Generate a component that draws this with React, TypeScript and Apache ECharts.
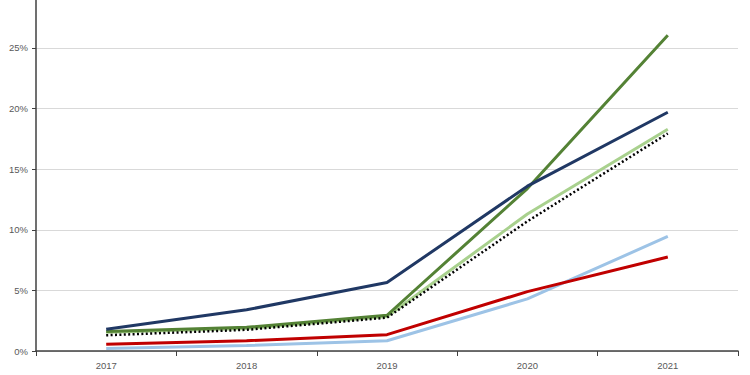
import React, { useEffect, useRef } from "react";
import * as echarts from "echarts";

const years = ["2017", "2018", "2019", "2020", "2021"];
const navy = [1.8, 3.4, 5.65, 13.6, 19.7];
const darkGreen = [1.6, 1.95, 2.95, 13.4, 26.05];
const lightGreen = [1.55, 1.85, 2.85, 11.3, 18.3];
const dotted = [1.3, 1.75, 2.75, 10.7, 17.95];
const red = [0.55, 0.85, 1.35, 4.9, 7.75];
const lightBlue = [0.2, 0.45, 0.85, 4.3, 9.45];

export default function App() {
  const ref = useRef<HTMLDivElement>(null);
  useEffect(() => {
    if (!ref.current) return;
    const chart = echarts.init(ref.current, null, { renderer: "svg" });
    const line = (name: string, data: number[], color: string, width = 3, type: any = "solid") => ({
      name,
      type: "line",
      data,
      symbol: "none",
      lineStyle: { color, width, type, cap: "butt" },
      itemStyle: { color },
    });
    chart.setOption({
      animation: false,
      backgroundColor: "#ffffff",
      grid: { left: 36, right: 12, top: 0, bottom: 24, containLabel: false },
      xAxis: {
        type: "category",
        data: years,
        boundaryGap: true,
        axisLine: { show: true, lineStyle: { color: "#404040", width: 1.5 } },
        axisTick: { show: true, inside: false, length: 5, lineStyle: { color: "#404040", width: 1 } },
        axisLabel: { color: "#595959", fontSize: 9.5, margin: 9, fontFamily: "Liberation Sans, Arial, sans-serif" },
        splitLine: { show: false },
      },
      yAxis: {
        type: "value",
        min: 0,
        max: 28.96,
        interval: 5,
        axisLine: { show: true, lineStyle: { color: "#404040", width: 1.5 } },
        axisTick: { show: true, inside: false, length: 4, lineStyle: { color: "#404040", width: 1 } },
        axisLabel: {
          color: "#595959",
          fontSize: 9.5,
          margin: 8,
          showMaxLabel: false,
          fontFamily: "Liberation Sans, Arial, sans-serif",
          formatter: (v: number) => (v % 5 === 0 ? `${v}%` : ""),
        },
        splitLine: { show: true, showMaxLine: false, lineStyle: { color: "#d9d9d9", width: 1 } },
      },
      series: [
        line("Light blue", lightBlue, "#9dc3e6"),
        line("Red", red, "#c00000"),
        line("Light green", lightGreen, "#a9d18e"),
        line("Dark green", darkGreen, "#548235"),
        line("Navy", navy, "#203864"),
        line("Dotted", dotted, "#000000", 2.5, [2, 2.4]),
      ],
    });
    return () => chart.dispose();
  }, []);
  return <div ref={ref} style={{ position: "fixed", left: 0, top: 0, width: 750, height: 375 }} />;
}
